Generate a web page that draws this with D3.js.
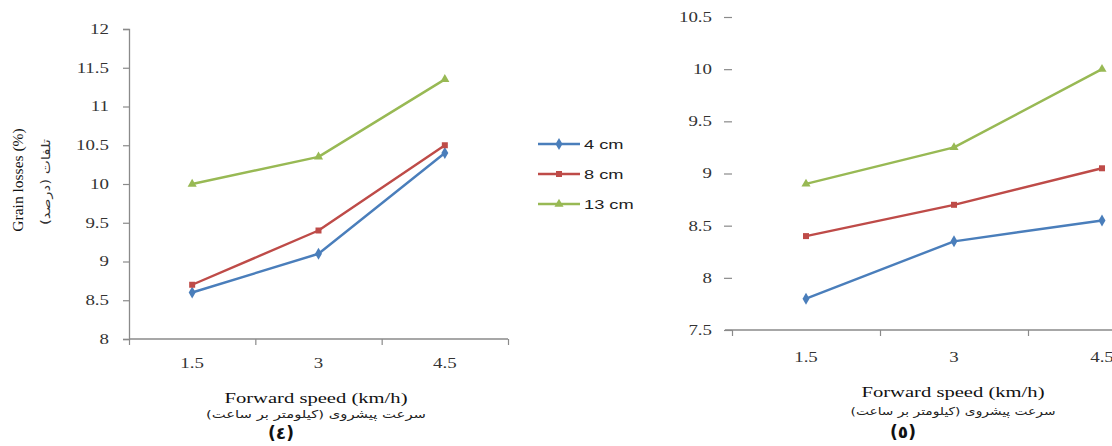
<!DOCTYPE html>
<html><head><meta charset="utf-8">
<script src="https://cdn.jsdelivr.net/npm/d3@7"></script>
<style>body{margin:0;background:#fff;overflow:hidden} svg{display:block}</style>
</head><body>
<svg id="c" width="1112" height="446"></svg>
<script>
const speeds = ["1.5", "3", "4.5"];
const depths = ["4 cm", "8 cm", "13 cm"];
const loss4A = [8.6, 9.1, 10.4];
const loss8A = [8.7, 9.4, 10.5];
const loss13A = [10.0, 10.35, 11.35];
const loss4B = [7.8, 8.35, 8.55];
const loss8B = [8.4, 8.7, 9.05];
const loss13B = [8.9, 9.25, 10.0];
const yTicksA = [8, 8.5, 9, 9.5, 10, 10.5, 11, 11.5, 12];
const yTicksB = [7.5, 8, 8.5, 9, 9.5, 10, 10.5];
const xTitle = "Forward speed (km/h)";
const xTitleFa = "سرعت پیشروی (کیلومتر بر ساعت)";
const yTitle = "Grain losses (%)";
const yTitleFa = "تلفات (درصد)";
const panelLabels = ["(٤)", "(٥)"];

const colors = ["#4a7ebb", "#be4b48", "#98b954"];
const symbols = [d3.symbolDiamond, d3.symbolSquare, d3.symbolTriangle];
const symSizes = [42, 36, 36];
const axisColor = "#8a8a8a";
const serif = "'Liberation Serif', 'Times New Roman', serif";
const STRETCH = 1.35;

const svg = d3.select("#c");

const panels = [
  {series: [loss4A, loss8A, loss13A], yDomain: [8, 12], yTicks: yTicksA,
   xRange: [129, 508], yRange: [339, 29], yLine: true, xLineStart: 129, xLineEnd: 508,
   xLabelY: 368, titleX: 316, titleY: 403, faY: 418, faW: 220, plX: 281, plY: 439, yPad: 14, yTick: 6},
  {series: [loss4B, loss8B, loss13B], yDomain: [7.5, 10.5], yTicks: yTicksB,
   xRange: [732, 1176], yRange: [330, 17], yLine: false, xLineStart: 725, xLineEnd: 1176,
   xLabelY: 362, titleX: 953, titleY: 397, faY: 415, faW: 205, plX: 903, plY: 438, yPad: 12, yTick: 8}
];

panels.forEach((p, pi) => {
  const g = svg.append("g");
  const x = d3.scaleBand().domain(speeds).range(p.xRange).padding(0);
  const y = d3.scaleLinear().domain(p.yDomain).range(p.yRange);
  const xEdge = d3.scaleLinear().domain([0, speeds.length]).range(p.xRange);
  const y0 = p.yRange[0];

  // y axis
  const ya = g.append("g").attr("transform", `translate(${p.xRange[0]},0)`)
    .call(d3.axisLeft(y).tickValues(p.yTicks).tickFormat(d3.format("")).tickSize(p.yTick).tickPadding(p.yPad));
  ya.select(".domain").attr("stroke", axisColor).attr("stroke-width", 1.3).attr("display", p.yLine ? null : "none");
  ya.selectAll(".tick line").attr("stroke", axisColor).attr("stroke-width", 1.2);
  ya.selectAll(".tick text").attr("class", "stretch").attr("font-family", serif).attr("font-size", 14).attr("fill", "#333");

  // x axis: line and boundary ticks
  g.append("line").attr("x1", p.xLineStart).attr("x2", Math.min(p.xLineEnd, 1112))
    .attr("y1", y0).attr("y2", y0).attr("stroke", axisColor).attr("stroke-width", 1.3);
  const xa = g.append("g").attr("transform", `translate(0,${y0})`)
    .call(d3.axisBottom(xEdge).tickValues(d3.range(speeds.length + 1)).tickFormat("").tickSize(6));
  xa.select(".domain").remove();
  xa.selectAll(".tick line").attr("stroke", axisColor).attr("stroke-width", 1.2);

  const xl = g.append("g").attr("transform", `translate(0,${p.xLabelY})`)
    .call(d3.axisBottom(x).tickSize(0).tickPadding(0));
  xl.select(".domain").remove();
  xl.selectAll(".tick text").attr("class", "stretch").attr("dy", 0).attr("font-family", serif).attr("font-size", 14).attr("fill", "#333");

  // lines
  const line = d3.line().x((d, i) => x(speeds[i]) + x.bandwidth() / 2).y(d => y(d));
  p.series.forEach((s, si) => {
    g.append("path").datum(s).attr("d", line).attr("fill", "none")
      .attr("stroke", colors[si]).attr("stroke-width", 2.4).attr("stroke-linejoin", "round");
    g.selectAll(null).data(s).enter().append("path")
      .attr("d", d3.symbol().type(symbols[si]).size(symSizes[si]))
      .attr("transform", (d, i) => `translate(${x(speeds[i]) + x.bandwidth() / 2},${y(d)})`)
      .attr("fill", colors[si]);
  });

  // titles
  g.append("text").attr("x", p.titleX).attr("y", p.titleY).attr("text-anchor", "middle")
    .attr("font-family", serif).attr("font-size", 15).attr("fill", "#111")
    .attr("textLength", 183).attr("lengthAdjust", "spacingAndGlyphs").text(xTitle);
  g.append("text").attr("x", p.titleX).attr("y", p.faY).attr("text-anchor", "middle")
    .attr("font-family", "'DejaVu Sans', sans-serif").attr("font-size", 11).attr("fill", "#222")
    .attr("textLength", p.faW).attr("lengthAdjust", "spacingAndGlyphs").text(xTitleFa);
  g.append("text").attr("x", p.plX).attr("y", p.plY).attr("text-anchor", "middle")
    .attr("font-family", "'DejaVu Sans', sans-serif").attr("font-weight", "bold").attr("font-size", 17).attr("fill", "#111")
    .text(panelLabels[pi]);
});

// left y titles
svg.append("text").attr("transform", "translate(23,180) rotate(-90)").attr("text-anchor", "middle")
  .attr("font-family", serif).attr("font-size", 15.5).attr("fill", "#111").text(yTitle);
svg.append("text").attr("transform", "translate(50,182) rotate(-90)").attr("text-anchor", "middle")
  .attr("font-family", "'DejaVu Sans', sans-serif").attr("font-size", 12).attr("fill", "#333")
  .attr("textLength", 86).attr("lengthAdjust", "spacingAndGlyphs").text(yTitleFa);

// legend
const leg = svg.append("g");
const legY = d3.scalePoint().domain(depths).range([144, 204]);
depths.forEach((d, i) => {
  const yy = legY(d);
  leg.append("line").attr("x1", 538).attr("x2", 580).attr("y1", yy).attr("y2", yy)
    .attr("stroke", colors[i]).attr("stroke-width", 2.4);
  leg.append("path").attr("d", d3.symbol().type(symbols[i]).size(symSizes[i]))
    .attr("transform", `translate(559,${yy})`).attr("fill", colors[i]);
  leg.append("text").attr("class", "stretch").attr("x", 584).attr("y", yy + 5)
    .attr("font-family", "'Liberation Sans', Arial, sans-serif").attr("font-size", 13.5).attr("fill", "#222").text(d);
});

// horizontal stretch of text, as in the reference
svg.selectAll("text.stretch").each(function() {
  const w = this.getComputedTextLength();
  d3.select(this).attr("textLength", w * STRETCH).attr("lengthAdjust", "spacingAndGlyphs");
});
</script>
</body></html>
